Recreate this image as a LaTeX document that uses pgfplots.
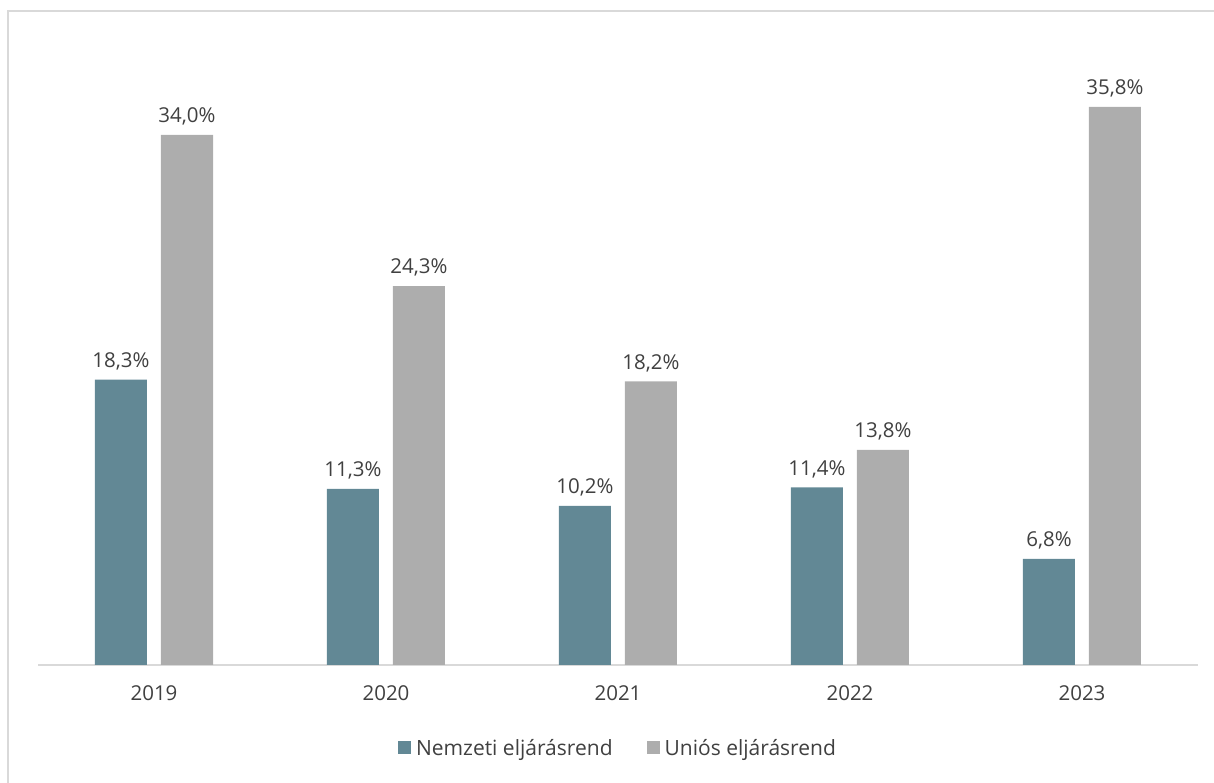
\documentclass[border=0pt]{standalone}
\usepackage{pgfplots}
\pgfplotsset{compat=1.18}
\usepackage{fontspec}
\setmainfont{Open Sans}
\definecolor{teal1}{RGB}{98,136,149}
\definecolor{gray1}{RGB}{173,173,173}
\definecolor{txt}{RGB}{64,64,64}
\definecolor{frame}{RGB}{217,217,217}
\begin{document}
\begin{tikzpicture}
\path[use as bounding box] (0,0) rectangle (1214pt,783pt);
\draw[frame,line width=1.5pt] (8pt,-5pt) -- (8pt,772pt) -- (1220pt,772pt);
\begin{axis}[
  at={(38pt,118pt)}, anchor=south west,
  scale only axis, width=1160pt, height=623.6pt,
  ybar=14pt, bar width=52pt,
  xmin=-0.5, xmax=4.5, ymin=0, ymax=40,
  axis y line=none, axis x line*=bottom,
  x axis line style={frame,line width=1.5pt,-},
  xtick=data, xticklabels={2019,2020,2021,2022,2023},
  xtick style={draw=none},
  /pgf/number format/assume math mode=true,
  xticklabel style={font=\fontsize{20.5}{22}\selectfont, text=txt, yshift=-13pt},
  nodes near coords={\pgfmathprintnumber[fixed,fixed zerofill,precision=1,use comma,assume math mode=true]{\pgfplotspointmeta}\%},
  nodes near coords style={font=\fontsize{20.5}{22}\selectfont, text=txt, yshift=6pt},
  legend style={at={(0.5,-0.133)}, anchor=center, draw=none, legend columns=2,
    font=\fontsize{21}{22}\selectfont, text=txt,
    /tikz/every odd column/.append style={column sep=3pt},
    /tikz/every even column/.append style={column sep=32pt}},
  legend image code/.code={\fill[#1] (0pt,-6.5pt) rectangle (13pt,6.5pt);},
]
\addplot[fill=teal1, draw=none] coordinates {(0,18.3) (1,11.3) (2,10.2) (3,11.4) (4,6.8)};
\addplot[fill=gray1, draw=none] coordinates {(0,34.0) (1,24.3) (2,18.2) (3,13.8) (4,35.8)};
\legend{Nemzeti eljárásrend, Uniós eljárásrend}
\end{axis}
\end{tikzpicture}
\end{document}
